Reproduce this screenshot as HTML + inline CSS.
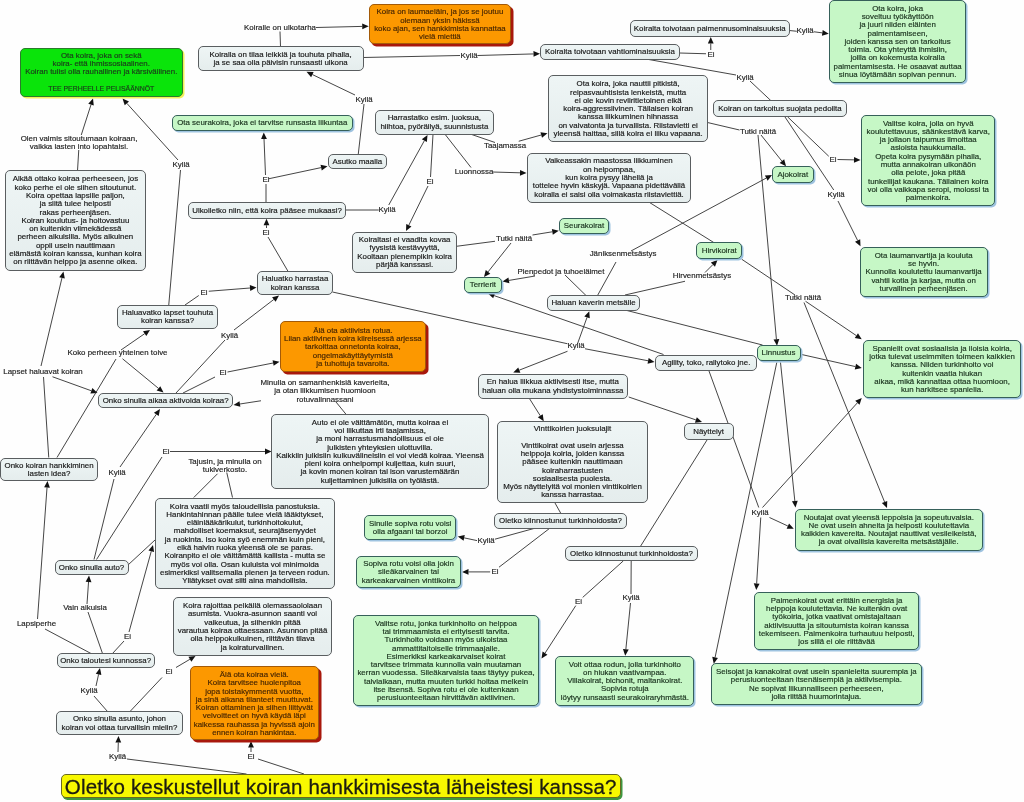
<!DOCTYPE html>
<html><head><meta charset="utf-8"><style>
html,body{margin:0;padding:0;background:#fefefe;}
body{width:1024px;height:802px;position:relative;overflow:hidden;font-family:"Liberation Sans",sans-serif;}
.b{position:absolute;padding-top:1px;-webkit-text-stroke:0.16px currentColor;box-sizing:border-box;border:1px solid;border-radius:5px;display:flex;align-items:center;justify-content:center;text-align:center;font-size:7.9px;line-height:8.3px;white-space:nowrap;}
.l{position:absolute;-webkit-text-stroke:0.16px currentColor;font-size:7.9px;line-height:8.3px;text-align:center;white-space:nowrap;color:#222;transform:translate(-50%,-50%);}
svg{position:absolute;left:0;top:0;}
#w{position:absolute;left:0;top:0;width:1024px;height:802px;filter:blur(0.35px);}
</style></head><body><div id="w">

<svg width="1024" height="802" viewBox="0 0 1024 802">
<line x1="246.5" y1="774" x2="127" y2="759" stroke="#303030" stroke-width="0.9"/>
<line x1="118" y1="752" x2="118.30" y2="742.50" stroke="#303030" stroke-width="0.9"/>
<polygon points="118.50,736.00 121.20,742.59 115.40,742.41" fill="#111"/>
<line x1="304" y1="774" x2="258" y2="759" stroke="#303030" stroke-width="0.9"/>
<line x1="251" y1="752" x2="251.00" y2="747.50" stroke="#303030" stroke-width="0.9"/>
<polygon points="251.00,741.00 253.90,747.50 248.10,747.50" fill="#111"/>
<line x1="107.5" y1="711.5" x2="94" y2="696" stroke="#303030" stroke-width="0.9"/>
<line x1="96" y1="686" x2="98.59" y2="674.35" stroke="#303030" stroke-width="0.9"/>
<polygon points="100.00,668.00 101.42,674.97 95.76,673.72" fill="#111"/>
<line x1="130" y1="711.5" x2="162" y2="677.5" stroke="#303030" stroke-width="0.9"/>
<line x1="176" y1="667.5" x2="189.90" y2="659.30" stroke="#303030" stroke-width="0.9"/>
<polygon points="195.50,656.00 191.37,661.80 188.43,656.80" fill="#111"/>
<line x1="91" y1="653.5" x2="45" y2="629" stroke="#303030" stroke-width="0.9"/>
<line x1="37.5" y1="619" x2="47.03" y2="487.48" stroke="#303030" stroke-width="0.9"/>
<polygon points="47.50,481.00 49.92,487.69 44.14,487.27" fill="#111"/>
<line x1="102.5" y1="653.5" x2="88" y2="612" stroke="#303030" stroke-width="0.9"/>
<line x1="87" y1="604" x2="88.54" y2="581.98" stroke="#303030" stroke-width="0.9"/>
<polygon points="89.00,575.50 91.44,582.19 85.65,581.78" fill="#111"/>
<line x1="112.5" y1="653.5" x2="124" y2="641" stroke="#303030" stroke-width="0.9"/>
<line x1="129" y1="632" x2="151.27" y2="551.27" stroke="#303030" stroke-width="0.9"/>
<polygon points="153.00,545.00 154.07,552.04 148.48,550.49" fill="#111"/>
<line x1="94" y1="559.5" x2="114" y2="479" stroke="#303030" stroke-width="0.9"/>
<line x1="120" y1="467" x2="156.31" y2="414.35" stroke="#303030" stroke-width="0.9"/>
<polygon points="160.00,409.00 158.70,416.00 153.92,412.70" fill="#111"/>
<line x1="96.5" y1="559.5" x2="162" y2="457" stroke="#303030" stroke-width="0.9"/>
<line x1="170" y1="451.5" x2="265.00" y2="451.50" stroke="#303030" stroke-width="0.9"/>
<polygon points="271.50,451.50 265.00,454.40 265.00,448.60" fill="#111"/>
<line x1="128" y1="565" x2="155" y2="540" stroke="#303030" stroke-width="0.9"/>
<line x1="48.75" y1="457.5" x2="43.5" y2="377" stroke="#303030" stroke-width="0.9"/>
<line x1="41" y1="366" x2="61.99" y2="277.82" stroke="#303030" stroke-width="0.9"/>
<polygon points="63.50,271.50 64.82,278.49 59.17,277.15" fill="#111"/>
<line x1="52.5" y1="376.75" x2="91.39" y2="390.79" stroke="#303030" stroke-width="0.9"/>
<polygon points="97.50,393.00 90.40,393.52 92.37,388.06" fill="#111"/>
<line x1="57" y1="457.5" x2="116" y2="359" stroke="#303030" stroke-width="0.9"/>
<line x1="121" y1="350" x2="144.65" y2="333.69" stroke="#303030" stroke-width="0.9"/>
<polygon points="150.00,330.00 146.30,336.08 143.00,331.30" fill="#111"/>
<line x1="122.5" y1="358.75" x2="158.48" y2="388.37" stroke="#303030" stroke-width="0.9"/>
<polygon points="163.50,392.50 156.64,390.61 160.32,386.13" fill="#111"/>
<line x1="168.75" y1="305" x2="180.5" y2="170" stroke="#303030" stroke-width="0.9"/>
<line x1="178" y1="160" x2="126.85" y2="103.33" stroke="#303030" stroke-width="0.9"/>
<polygon points="122.50,98.50 129.01,101.38 124.70,105.27" fill="#111"/>
<line x1="77.5" y1="170.75" x2="78.75" y2="150" stroke="#303030" stroke-width="0.9"/>
<line x1="81.25" y1="135" x2="91.01" y2="104.69" stroke="#303030" stroke-width="0.9"/>
<polygon points="93.00,98.50 93.77,105.58 88.25,103.80" fill="#111"/>
<line x1="185" y1="305" x2="198.75" y2="295.5" stroke="#303030" stroke-width="0.9"/>
<line x1="208.75" y1="291.25" x2="250.02" y2="288.01" stroke="#303030" stroke-width="0.9"/>
<polygon points="256.50,287.50 250.25,290.90 249.79,285.12" fill="#111"/>
<line x1="176" y1="393" x2="225" y2="340" stroke="#303030" stroke-width="0.9"/>
<line x1="234" y1="330" x2="273.84" y2="299.45" stroke="#303030" stroke-width="0.9"/>
<polygon points="279.00,295.50 275.61,301.76 272.08,297.15" fill="#111"/>
<line x1="183" y1="393" x2="215" y2="377" stroke="#303030" stroke-width="0.9"/>
<line x1="227.5" y1="372" x2="273.12" y2="363.01" stroke="#303030" stroke-width="0.9"/>
<polygon points="279.50,361.75 273.68,365.85 272.56,360.16" fill="#111"/>
<line x1="261" y1="400.75" x2="239.92" y2="404.01" stroke="#303030" stroke-width="0.9"/>
<polygon points="233.50,405.00 239.48,401.14 240.37,406.87" fill="#111"/>
<line x1="336" y1="402" x2="346" y2="414.25" stroke="#303030" stroke-width="0.9"/>
<line x1="217.5" y1="473.75" x2="193.75" y2="497.5" stroke="#303030" stroke-width="0.9"/>
<line x1="226.75" y1="472.5" x2="232.5" y2="497.5" stroke="#303030" stroke-width="0.9"/>
<line x1="288.25" y1="271.75" x2="268" y2="237" stroke="#303030" stroke-width="0.9"/>
<line x1="266.5" y1="228" x2="266.50" y2="225.25" stroke="#303030" stroke-width="0.9"/>
<polygon points="266.50,218.75 269.40,225.25 263.60,225.25" fill="#111"/>
<line x1="266" y1="202" x2="266" y2="184" stroke="#303030" stroke-width="0.9"/>
<line x1="265.5" y1="175" x2="264.02" y2="138.99" stroke="#303030" stroke-width="0.9"/>
<polygon points="263.75,132.50 266.91,138.88 261.12,139.11" fill="#111"/>
<line x1="268.75" y1="178.75" x2="321.14" y2="167.60" stroke="#303030" stroke-width="0.9"/>
<polygon points="327.50,166.25 321.75,170.44 320.54,164.77" fill="#111"/>
<line x1="358.25" y1="154.25" x2="364" y2="104" stroke="#303030" stroke-width="0.9"/>
<line x1="355" y1="95" x2="312.36" y2="74.56" stroke="#303030" stroke-width="0.9"/>
<polygon points="306.50,71.75 313.61,71.94 311.11,77.17" fill="#111"/>
<line x1="280.5" y1="46.5" x2="280" y2="31.5" stroke="#303030" stroke-width="0.9"/>
<line x1="316" y1="27.5" x2="362.25" y2="26.40" stroke="#303030" stroke-width="0.9"/>
<polygon points="368.75,26.25 362.32,29.30 362.18,23.50" fill="#111"/>
<line x1="363" y1="57.5" x2="460" y2="55.5" stroke="#303030" stroke-width="0.9"/>
<line x1="477.5" y1="55.5" x2="533.50" y2="53.93" stroke="#303030" stroke-width="0.9"/>
<polygon points="540.00,53.75 533.58,56.83 533.42,51.03" fill="#111"/>
<line x1="345.75" y1="210" x2="378.75" y2="210" stroke="#303030" stroke-width="0.9"/>
<line x1="388.75" y1="205" x2="424.35" y2="140.69" stroke="#303030" stroke-width="0.9"/>
<polygon points="427.50,135.00 426.89,142.09 421.81,139.28" fill="#111"/>
<line x1="433" y1="134.25" x2="430.5" y2="177" stroke="#303030" stroke-width="0.9"/>
<line x1="428" y1="186" x2="408.85" y2="225.16" stroke="#303030" stroke-width="0.9"/>
<polygon points="406.00,231.00 406.25,223.89 411.46,226.43" fill="#111"/>
<line x1="471" y1="134.25" x2="495" y2="142.5" stroke="#303030" stroke-width="0.9"/>
<line x1="518.75" y1="141.25" x2="541.24" y2="134.99" stroke="#303030" stroke-width="0.9"/>
<polygon points="547.50,133.25 542.02,137.79 540.46,132.20" fill="#111"/>
<line x1="445" y1="134.25" x2="471" y2="167.5" stroke="#303030" stroke-width="0.9"/>
<line x1="492.5" y1="172" x2="520.00" y2="172.81" stroke="#303030" stroke-width="0.9"/>
<polygon points="526.50,173.00 519.92,175.71 520.09,169.91" fill="#111"/>
<line x1="456.75" y1="246.25" x2="495" y2="241.25" stroke="#303030" stroke-width="0.9"/>
<line x1="532.5" y1="235" x2="552.33" y2="231.79" stroke="#303030" stroke-width="0.9"/>
<polygon points="558.75,230.75 552.80,234.65 551.87,228.93" fill="#111"/>
<line x1="511" y1="243" x2="488.04" y2="271.91" stroke="#303030" stroke-width="0.9"/>
<polygon points="484.00,277.00 485.77,270.11 490.31,273.71" fill="#111"/>
<line x1="586" y1="295.5" x2="565" y2="275" stroke="#303030" stroke-width="0.9"/>
<line x1="535" y1="276" x2="508.91" y2="280.42" stroke="#303030" stroke-width="0.9"/>
<polygon points="502.50,281.50 508.42,277.56 509.39,283.27" fill="#111"/>
<line x1="597.5" y1="295.5" x2="616" y2="262" stroke="#303030" stroke-width="0.9"/>
<line x1="631" y1="251" x2="766.28" y2="178.08" stroke="#303030" stroke-width="0.9"/>
<polygon points="772.00,175.00 767.65,180.64 764.90,175.53" fill="#111"/>
<line x1="625" y1="295" x2="685" y2="281.25" stroke="#303030" stroke-width="0.9"/>
<line x1="705" y1="272.5" x2="712.90" y2="264.60" stroke="#303030" stroke-width="0.9"/>
<polygon points="717.50,260.00 714.95,266.65 710.85,262.55" fill="#111"/>
<line x1="577.5" y1="343.75" x2="587.04" y2="317.36" stroke="#303030" stroke-width="0.9"/>
<polygon points="589.25,311.25 589.77,318.35 584.31,316.38" fill="#111"/>
<line x1="567.5" y1="351.25" x2="519.30" y2="370.13" stroke="#303030" stroke-width="0.9"/>
<polygon points="513.25,372.50 518.24,367.43 520.36,372.83" fill="#111"/>
<line x1="585" y1="348.75" x2="648.12" y2="360.78" stroke="#303030" stroke-width="0.9"/>
<polygon points="654.50,362.00 647.57,363.63 648.66,357.93" fill="#111"/>
<line x1="332.5" y1="292" x2="567.5" y2="343.75" stroke="#303030" stroke-width="0.9"/>
<line x1="663.5" y1="354.5" x2="494.14" y2="295.63" stroke="#303030" stroke-width="0.9"/>
<polygon points="488.00,293.50 495.09,292.89 493.19,298.37" fill="#111"/>
<line x1="625" y1="310" x2="762.5" y2="345" stroke="#303030" stroke-width="0.9"/>
<line x1="648.75" y1="202" x2="713.75" y2="242.5" stroke="#303030" stroke-width="0.9"/>
<line x1="741.75" y1="259.25" x2="795" y2="295" stroke="#303030" stroke-width="0.9"/>
<line x1="805.5" y1="301.25" x2="856.36" y2="335.61" stroke="#303030" stroke-width="0.9"/>
<polygon points="861.75,339.25 854.74,338.01 857.99,333.21" fill="#111"/>
<line x1="804" y1="302.5" x2="884.57" y2="501.97" stroke="#303030" stroke-width="0.9"/>
<polygon points="887.00,508.00 881.88,503.06 887.25,500.89" fill="#111"/>
<line x1="787.5" y1="116.75" x2="828.75" y2="156.25" stroke="#303030" stroke-width="0.9"/>
<line x1="837.5" y1="159.5" x2="854.00" y2="159.86" stroke="#303030" stroke-width="0.9"/>
<polygon points="860.50,160.00 853.94,162.76 854.06,156.96" fill="#111"/>
<line x1="785" y1="117" x2="833.75" y2="190" stroke="#303030" stroke-width="0.9"/>
<line x1="838" y1="201" x2="857.61" y2="240.43" stroke="#303030" stroke-width="0.9"/>
<polygon points="860.50,246.25 855.01,241.72 860.20,239.14" fill="#111"/>
<line x1="648.75" y1="59.5" x2="736" y2="75" stroke="#303030" stroke-width="0.9"/>
<line x1="750" y1="81" x2="771" y2="100.75" stroke="#303030" stroke-width="0.9"/>
<line x1="679.5" y1="53" x2="706" y2="53.75" stroke="#303030" stroke-width="0.9"/>
<line x1="710.75" y1="50" x2="710.75" y2="43.50" stroke="#303030" stroke-width="0.9"/>
<polygon points="710.75,37.00 713.65,43.50 707.85,43.50" fill="#111"/>
<line x1="789.25" y1="30.5" x2="796.75" y2="31.25" stroke="#303030" stroke-width="0.9"/>
<line x1="813.75" y1="31.75" x2="822.31" y2="32.89" stroke="#303030" stroke-width="0.9"/>
<polygon points="828.75,33.75 821.92,35.77 822.69,30.02" fill="#111"/>
<line x1="707.5" y1="122.5" x2="739.5" y2="130" stroke="#303030" stroke-width="0.9"/>
<line x1="761" y1="135" x2="781.94" y2="161.17" stroke="#303030" stroke-width="0.9"/>
<polygon points="786.00,166.25 779.67,162.99 784.20,159.36" fill="#111"/>
<line x1="758" y1="135" x2="776.42" y2="339.28" stroke="#303030" stroke-width="0.9"/>
<polygon points="777.00,345.75 773.53,339.54 779.30,339.02" fill="#111"/>
<line x1="800.5" y1="354.25" x2="855.41" y2="366.58" stroke="#303030" stroke-width="0.9"/>
<polygon points="861.75,368.00 854.77,369.41 856.04,363.75" fill="#111"/>
<line x1="780.5" y1="362.5" x2="794.83" y2="501.03" stroke="#303030" stroke-width="0.9"/>
<polygon points="795.50,507.50 791.95,501.33 797.72,500.74" fill="#111"/>
<line x1="776.75" y1="362.5" x2="715.08" y2="657.39" stroke="#303030" stroke-width="0.9"/>
<polygon points="713.75,663.75 712.24,656.79 717.92,657.98" fill="#111"/>
<line x1="709" y1="371" x2="758.75" y2="507.5" stroke="#303030" stroke-width="0.9"/>
<line x1="760.75" y1="517.5" x2="756.65" y2="583.51" stroke="#303030" stroke-width="0.9"/>
<polygon points="756.25,590.00 753.76,583.33 759.55,583.69" fill="#111"/>
<line x1="762.5" y1="507.5" x2="857.38" y2="402.82" stroke="#303030" stroke-width="0.9"/>
<polygon points="861.75,398.00 859.53,404.76 855.24,400.87" fill="#111"/>
<line x1="769.5" y1="517.5" x2="787.85" y2="526.01" stroke="#303030" stroke-width="0.9"/>
<polygon points="793.75,528.75 786.63,528.65 789.07,523.38" fill="#111"/>
<line x1="707" y1="440" x2="640.3" y2="546.6" stroke="#303030" stroke-width="0.9"/>
<line x1="529.25" y1="398.25" x2="540.28" y2="415.75" stroke="#303030" stroke-width="0.9"/>
<polygon points="543.75,421.25 537.83,417.30 542.74,414.20" fill="#111"/>
<line x1="628.75" y1="397" x2="695.85" y2="419.90" stroke="#303030" stroke-width="0.9"/>
<polygon points="702.00,422.00 694.91,422.65 696.79,417.16" fill="#111"/>
<line x1="555" y1="503" x2="560.75" y2="513.25" stroke="#303030" stroke-width="0.9"/>
<line x1="534.6" y1="528.3" x2="494.9" y2="539.2" stroke="#303030" stroke-width="0.9"/>
<line x1="477" y1="540.6" x2="464.16" y2="537.86" stroke="#303030" stroke-width="0.9"/>
<polygon points="457.80,536.50 464.76,535.02 463.55,540.69" fill="#111"/>
<line x1="549.7" y1="528.3" x2="499" y2="567.2" stroke="#303030" stroke-width="0.9"/>
<line x1="490.2" y1="571.9" x2="468.50" y2="571.90" stroke="#303030" stroke-width="0.9"/>
<polygon points="462.00,571.90 468.50,569.00 468.50,574.80" fill="#111"/>
<line x1="623.3" y1="560.9" x2="582.7" y2="597.4" stroke="#303030" stroke-width="0.9"/>
<line x1="575.8" y1="605.6" x2="545.03" y2="653.14" stroke="#303030" stroke-width="0.9"/>
<polygon points="541.50,658.60 542.60,651.57 547.47,654.72" fill="#111"/>
<line x1="631.2" y1="560.9" x2="631" y2="594" stroke="#303030" stroke-width="0.9"/>
<line x1="630.5" y1="603" x2="625.85" y2="649.33" stroke="#303030" stroke-width="0.9"/>
<polygon points="625.20,655.80 622.96,649.04 628.73,649.62" fill="#111"/>
</svg>
<div class="b" style="left:19.5px;top:47.5px;width:163.5px;height:49.0px;background:#0ae40a;border-color:#2c7a2c;color:#1c3a1c;box-shadow:1.5px 1.5px 0 #f2f25a;"><div>Ota koira, joka on sekä<br>koira- että ihmissosiaalinen.<br>Koiran tulisi olla rauhallinen ja kärsivällinen.<br>&nbsp;<br><span style="font-size:6.9px">TEE PERHEELLE PELISÄÄNNÖT</span></div></div>
<div class="b" style="left:368.75px;top:3.8px;width:142.35000000000002px;height:40.5px;background:#fc9800;border-color:#a35a08;color:#472600;box-shadow:2.5px 2.5px 0 #a8180c;padding-top:2px;"><div>Koira on laumaeläin, ja jos se joutuu<br>olemaan yksin häkissä<br>koko ajan, sen hankkimista kannattaa<br>vielä miettiä</div></div>
<div class="b" style="left:197.75px;top:46.0px;width:165.75px;height:25.25px;background:linear-gradient(#eef5f5,#e5eded);border-color:#5a5e60;color:#161616;box-shadow:none;"><div>Koiralla on tilaa leikkiä ja touhuta pihalla,<br>ja se saa olla päivisin runsaasti ulkona</div></div>
<div class="b" style="left:540.0px;top:43.75px;width:140.0px;height:16.25px;background:linear-gradient(#eef5f5,#e5eded);border-color:#5a5e60;color:#161616;box-shadow:none;"><div>Koiralta toivotaan vahtiominaisuuksia</div></div>
<div class="b" style="left:629.5px;top:20.0px;width:160.5px;height:17.25px;background:linear-gradient(#eef5f5,#e5eded);border-color:#5a5e60;color:#161616;box-shadow:none;"><div>Koiralta toivotaan paimennusominaisuuksia</div></div>
<div class="b" style="left:829.25px;top:0.0px;width:136.75px;height:83.0px;background:#c6f7c6;border-color:#36605a;color:#18301c;box-shadow:1.5px 1.5px 0 #9ec3e0;"><div>Ota koira, joka<br>soveltuu työkäyttöön<br>ja juuri niiden eläinten<br>paimentamiseen,<br>joiden kanssa sen on tarkoitus<br>toimia. Ota yhteyttä ihmisiin,<br>joilla on kokemusta koiralla<br>paimentamisesta. He osaavat auttaa<br>sinua löytämään sopivan pennun.</div></div>
<div class="b" style="left:172.0px;top:114.5px;width:180.5px;height:16.5px;background:#c6f7c6;border-color:#36605a;color:#18301c;box-shadow:1.5px 1.5px 0 #9ec3e0;"><div>Ota seurakoira, joka ei tarvitse runsasta liikuntaa</div></div>
<div class="b" style="left:375.0px;top:109.5px;width:118.75px;height:25.25px;background:linear-gradient(#eef5f5,#e5eded);border-color:#5a5e60;color:#161616;box-shadow:none;"><div>Harrastatko esim. juoksua,<br>hiihtoa, pyöräilyä, suunnistusta</div></div>
<div class="b" style="left:548.25px;top:75.25px;width:159.75px;height:67.0px;background:linear-gradient(#eef5f5,#e5eded);border-color:#5a5e60;color:#161616;box-shadow:none;"><div>Ota koira, joka nauttii pitkistä,<br>reipasvauhtisista lenkeistä, mutta<br>ei ole kovin reviiritietoinen eikä<br>koira-aggressiivinen. Tällaisen koiran<br>kanssa liikkuminen hihnassa<br>on vaivatonta ja turvallista. Riistavietti ei<br>yleensä haittaa, sillä koira ei liiku vapaana.</div></div>
<div class="b" style="left:712.75px;top:100.25px;width:134.5px;height:17.0px;background:linear-gradient(#eef5f5,#e5eded);border-color:#5a5e60;color:#161616;box-shadow:none;"><div>Koiran on tarkoitus suojata pedoilta</div></div>
<div class="b" style="left:327.75px;top:153.75px;width:59.0px;height:15.0px;background:linear-gradient(#eef5f5,#e5eded);border-color:#5a5e60;color:#161616;box-shadow:none;"><div>Asutko maalla</div></div>
<div class="b" style="left:527.0px;top:152.75px;width:164.0px;height:49.75px;background:linear-gradient(#eef5f5,#e5eded);border-color:#5a5e60;color:#161616;box-shadow:none;"><div>Vaikeassakin maastossa liikkuminen<br>on helpompaa,<br>kun koira pysyy lähellä ja<br>tottelee hyvin käskyjä. Vapaana pidettävällä<br>koiralla ei saisi olla voimakasta riistaviettiä.</div></div>
<div class="b" style="left:187.75px;top:202.0px;width:158.5px;height:16.75px;background:linear-gradient(#eef5f5,#e5eded);border-color:#5a5e60;color:#161616;box-shadow:none;"><div>Ulkoiletko niin, että koira pääsee mukaasi?</div></div>
<div class="b" style="left:4.5px;top:170.0px;width:141.75px;height:101.0px;background:linear-gradient(#eef5f5,#e5eded);border-color:#5a5e60;color:#161616;box-shadow:none;"><div>Alkää ottako koiraa perheeseen, jos<br>koko perhe ei ole siihen sitoutunut.<br>Koira opettaa lapsille paljon,<br>ja siitä tulee helposti<br>rakas perheenjäsen.<br>Koiran koulutus- ja hoitovastuu<br>on kuitenkin viimekädessä<br>perheen aikuisilla. Myös aikuinen<br>oppii usein nauttimaan<br>elämästä koiran kanssa, kunhan koira<br>on riittävän helppo ja asenne oikea.</div></div>
<div class="b" style="left:861.25px;top:115.0px;width:134.0px;height:91.0px;background:#c6f7c6;border-color:#36605a;color:#18301c;box-shadow:1.5px 1.5px 0 #9ec3e0;"><div>Valitse koira, jolla on hyvä<br>koulutettavuus, säänkestävä karva,<br>ja jollaon taipumus ilmoittaa<br>asioista haukkumalla.<br>Opeta koira pysymään pihalla,<br>mutta annakoiran ulkonäön<br>olla pelote, joka pitää<br>tunkeilijat kaukana. Tällainen koira<br>voi olla vaikkapa seropi, molossi ta<br>paimenkoira.</div></div>
<div class="b" style="left:772.0px;top:166.25px;width:41.5px;height:16.75px;background:#c6f7c6;border-color:#36605a;color:#18301c;box-shadow:1.5px 1.5px 0 #9ec3e0;"><div>Ajokoirat</div></div>
<div class="b" style="left:352.0px;top:231.5px;width:105.25px;height:41.5px;background:linear-gradient(#eef5f5,#e5eded);border-color:#5a5e60;color:#161616;box-shadow:none;"><div>Koiraltasi ei vaadita kovaa<br>fyysistä kestävyyttä,<br>Kooltaan pienempikin koira<br>pärjää kanssasi.</div></div>
<div class="b" style="left:558.75px;top:217.75px;width:50.5px;height:16.0px;background:#c6f7c6;border-color:#36605a;color:#18301c;box-shadow:1.5px 1.5px 0 #9ec3e0;"><div>Seurakoirat</div></div>
<div class="b" style="left:696.25px;top:242.0px;width:46.0px;height:16.5px;background:#c6f7c6;border-color:#36605a;color:#18301c;box-shadow:1.5px 1.5px 0 #9ec3e0;"><div>Hirvikoirat</div></div>
<div class="b" style="left:859.5px;top:247.0px;width:128.25px;height:50.25px;background:#c6f7c6;border-color:#36605a;color:#18301c;box-shadow:1.5px 1.5px 0 #9ec3e0;"><div>Ota laumanvartija ja kouluta<br>se hyvin.<br>Kunnolla koulutettu laumanvartija<br>vahtii kotia ja karjaa, mutta on<br>turvallinen perheenjäsen.</div></div>
<div class="b" style="left:463.75px;top:277.0px;width:38.25px;height:16.0px;background:#c6f7c6;border-color:#36605a;color:#18301c;box-shadow:1.5px 1.5px 0 #9ec3e0;"><div>Terrierit</div></div>
<div class="b" style="left:257.0px;top:271.25px;width:76.0px;height:23.75px;background:linear-gradient(#eef5f5,#e5eded);border-color:#5a5e60;color:#161616;box-shadow:none;"><div>Haluatko harrastaa<br>koiran kanssa</div></div>
<div class="b" style="left:547.0px;top:294.75px;width:93.0px;height:15.75px;background:linear-gradient(#eef5f5,#e5eded);border-color:#5a5e60;color:#161616;box-shadow:none;"><div>Haluan kaverin metsälle</div></div>
<div class="b" style="left:117.0px;top:305.0px;width:101.0px;height:23.5px;background:linear-gradient(#eef5f5,#e5eded);border-color:#5a5e60;color:#161616;box-shadow:none;"><div>Haluavatko lapset touhuta<br>koiran kanssa?</div></div>
<div class="b" style="left:279.5px;top:321.25px;width:146.8px;height:50.44999999999999px;background:#fc9800;border-color:#a35a08;color:#472600;box-shadow:2.5px 2.5px 0 #a8180c;padding-top:2px;"><div>Älä ota aktiivista rotua.<br>Liian aktiivinen koira kiireisessä arjessa<br>tarkoittaa onnetonta koiraa,<br>ongelmakäyttäytymistä<br>ja tuhottuja tavaroita.</div></div>
<div class="b" style="left:756.5px;top:345.25px;width:44.0px;height:15.75px;background:#c6f7c6;border-color:#36605a;color:#18301c;box-shadow:1.5px 1.5px 0 #9ec3e0;"><div>Linnustus</div></div>
<div class="b" style="left:863.25px;top:340.0px;width:157.75px;height:58.0px;background:#c6f7c6;border-color:#36605a;color:#18301c;box-shadow:1.5px 1.5px 0 #9ec3e0;"><div>Spanielit ovat sosiaalisia ja iloisia koiria,<br>jotka tulevat useimmiten toimeen kaikkien<br>kanssa. Niiden turkinhoito voi<br>kuitenkin vaatia hiukan<br>aikaa, mikä kannattaa ottaa huomioon,<br>kun harkitsee spanielia.</div></div>
<div class="b" style="left:655.0px;top:354.5px;width:102.25px;height:16.75px;background:linear-gradient(#eef5f5,#e5eded);border-color:#5a5e60;color:#161616;box-shadow:none;"><div>Agility, toko, rallytoko jne.</div></div>
<div class="b" style="left:477.75px;top:373.75px;width:150.25px;height:25.0px;background:linear-gradient(#eef5f5,#e5eded);border-color:#5a5e60;color:#161616;box-shadow:none;"><div>En halua liikkua aktiivisesti itse, mutta<br>haluan olla mukana yhdistystoiminnassa</div></div>
<div class="b" style="left:98.25px;top:392.75px;width:134.75px;height:15.25px;background:linear-gradient(#eef5f5,#e5eded);border-color:#5a5e60;color:#161616;box-shadow:none;"><div>Onko sinulla aikaa aktivoida koiraa?</div></div>
<div class="b" style="left:271.25px;top:414.0px;width:217.5px;height:74.75px;background:linear-gradient(#eef5f5,#e5eded);border-color:#5a5e60;color:#161616;box-shadow:none;"><div>Auto ei ole välttämätön, mutta koiraa ei<br>voi liikuttaa irti taajamissa,<br>ja moni harrastusmahdollisuus ei ole<br>julkisten yhteyksien ulottuvilla.<br>Kaikkiin julkisiin kulkuvälineisiin ei voi viedä koiraa. Yleensä<br>pieni koira onhelpompi kuljettaa, kuin suuri,<br>ja kovin monen koiran tai ison varustemäärän<br>kuljettaminen julkisilla on työlästä.</div></div>
<div class="b" style="left:683.75px;top:422.75px;width:49.75px;height:17.0px;background:linear-gradient(#eef5f5,#e5eded);border-color:#5a5e60;color:#161616;box-shadow:none;"><div>Näyttelyt</div></div>
<div class="b" style="left:497.0px;top:420.75px;width:151.0px;height:82.25px;background:linear-gradient(#eef5f5,#e5eded);border-color:#5a5e60;color:#161616;box-shadow:none;"><div>Vinttikoirien juoksulajit<br>&nbsp;<br>Vinttikoirat ovat usein arjessa<br>helppoja koiria, joiden kanssa<br>pääsee kuitenkin nauttimaan<br>koiraharrastusten<br>sosiaalisesta puolesta.<br>Myös näyttelyitä voi monien vinttikoirien<br>kanssa harrastaa.</div></div>
<div class="b" style="left:0.25px;top:457.75px;width:97.75px;height:23.5px;background:linear-gradient(#eef5f5,#e5eded);border-color:#5a5e60;color:#161616;box-shadow:none;"><div>Onko koiran hankkiminen<br>lasten idea?</div></div>
<div class="b" style="left:154.75px;top:497.75px;width:180.25px;height:91.5px;background:linear-gradient(#eef5f5,#e5eded);border-color:#5a5e60;color:#161616;box-shadow:none;"><div>Koira vaatii myös taloudellisia panostuksia.<br>Hankintahinnan päälle tulee vielä lääkitykset,<br>eläinlääkärikulut, turkinhoitokulut,<br>mahdolliset koemaksut, seurajäsenyydet<br>ja ruokinta. Iso koira syö enemmän kuin pieni,<br>eikä halvin ruoka yleensä ole se paras.<br>Koiranpito ei ole välttämättä kallista - mutta se<br>myös voi olla. Osan kuluista voi minimoida<br>esimerkiksi valitsemalla pienen ja terveen rodun.<br>Yllätykset ovat silti aina mahdollisia.</div></div>
<div class="b" style="left:493.8px;top:513.0px;width:133.40000000000003px;height:15.799999999999955px;background:linear-gradient(#eef5f5,#e5eded);border-color:#5a5e60;color:#161616;box-shadow:none;"><div>Oletko kiinnostunut turkinhoidosta?</div></div>
<div class="b" style="left:364.0px;top:515.0px;width:92.30000000000001px;height:25.0px;background:#c6f7c6;border-color:#36605a;color:#18301c;box-shadow:1.5px 1.5px 0 #9ec3e0;"><div>Sinulle sopiva rotu voisi<br>olla afgaani tai borzoi</div></div>
<div class="b" style="left:794.5px;top:508.75px;width:188.5px;height:41.75px;background:#c6f7c6;border-color:#36605a;color:#18301c;box-shadow:1.5px 1.5px 0 #9ec3e0;"><div>Noutajat ovat yleensä leppoisia ja sopeutuvaisia.<br>Ne ovat usein ahneita ja helposti koulutettavia<br>kaikkien kavereita. Noutajat nauttivat vesileikeistä,<br>ja ovat oivallisia kavereita metsästäjälle.</div></div>
<div class="b" style="left:564.9px;top:546.1px;width:133.10000000000002px;height:15.299999999999955px;background:linear-gradient(#eef5f5,#e5eded);border-color:#5a5e60;color:#161616;box-shadow:none;"><div>Oletko kiinnostunut turkinhoidosta?</div></div>
<div class="b" style="left:356.0px;top:556.0px;width:105.10000000000002px;height:31.799999999999955px;background:#c6f7c6;border-color:#36605a;color:#18301c;box-shadow:1.5px 1.5px 0 #9ec3e0;"><div>Sopiva rotu voisi olla jokin<br>sileäkarvainen tai<br>karkeakarvainen vinttikoira</div></div>
<div class="b" style="left:54.5px;top:559.5px;width:74.0px;height:15.5px;background:linear-gradient(#eef5f5,#e5eded);border-color:#5a5e60;color:#161616;box-shadow:none;"><div>Onko sinulla auto?</div></div>
<div class="b" style="left:754.0px;top:592.0px;width:165.25px;height:58.0px;background:#c6f7c6;border-color:#36605a;color:#18301c;box-shadow:1.5px 1.5px 0 #9ec3e0;"><div>Paimenkoirat ovat erittäin energisia ja<br>helppoja koulutettavia. Ne kuitenkin ovat<br>työkoiria, jotka vaativat omistajaltaan<br>aktiivisuutta ja sitoutumista koiran kanssa<br>tekemiseen. Paimenkoira turhautuu helposti,<br>jos sillä ei ole riittävää</div></div>
<div class="b" style="left:172.75px;top:597.1px;width:159.5px;height:58.89999999999998px;background:linear-gradient(#eef5f5,#e5eded);border-color:#5a5e60;color:#161616;box-shadow:none;"><div>Koira rajoittaa pelkällä olemassaololaan<br>asumista. Vuokra-asunnon saanti voi<br>vaikeutua, ja siihenkin pitää<br>varautua koiraa ottaessaan. Asunnon pitää<br>olla helppokulkuinen, riittävän tilava<br>ja koiraturvallinen.</div></div>
<div class="b" style="left:352.75px;top:614.9px;width:186.54999999999995px;height:91.60000000000002px;background:#c6f7c6;border-color:#36605a;color:#18301c;box-shadow:1.5px 1.5px 0 #9ec3e0;"><div>Valitse rotu, jonka turkinhoito on helppoa<br>tai trimmaamista ei erityisesti tarvita.<br>Turkinhoito voidaan myös ulkoistaa<br>ammattitaitoiselle trimmaajalle.<br>Esimerkiksi karkeakarvaiset koirat<br>tarvitsee trimmata kunnolla vain muutaman<br>kerran vuodessa. Sileäkarvaisia taas täytyy pukea,<br>talviaikaan, mutta muuten turkki hoitaa melkein<br>itse itsensä. Sopiva rotu ei ole kuitenkaan<br>perusluonteeltaan hirvittävän aktiivinen.</div></div>
<div class="b" style="left:56.5px;top:653.25px;width:98.25px;height:14.75px;background:linear-gradient(#eef5f5,#e5eded);border-color:#5a5e60;color:#161616;box-shadow:none;"><div>Onko taloutesi kunnossa?</div></div>
<div class="b" style="left:555.3px;top:655.9px;width:139.0px;height:49.80000000000007px;background:#c6f7c6;border-color:#36605a;color:#18301c;box-shadow:1.5px 1.5px 0 #9ec3e0;"><div>Voit ottaa rodun, jolla turkinhoito<br>on hiukan vaativampaa.<br>Villakoirat, bichonit, maltankoirat.<br>Sopivia rotuja<br>löytyy runsaasti seurakoiraryhmästä.</div></div>
<div class="b" style="left:711.0px;top:663.3px;width:210.70000000000005px;height:41.700000000000045px;background:#c6f7c6;border-color:#36605a;color:#18301c;box-shadow:1.5px 1.5px 0 #9ec3e0;"><div>Seisojat ja kanakoirat ovat usein spanieleita suurempia ja<br>perusluonteeltaan itsenäisempiä ja aktiivisempia.<br>Ne sopivat liikunnalliseen perheeseen,<br>jolla riittää huumorintajua.</div></div>
<div class="b" style="left:189.5px;top:665.8px;width:129.60000000000002px;height:74.70000000000005px;background:#fc9800;border-color:#a35a08;color:#472600;box-shadow:2.5px 2.5px 0 #a8180c;padding-top:2px;"><div>Älä ota koiraa vielä.<br>Koira tarvitsee huolenpitoa<br>jopa toistakymmentä vuotta,<br>ja sinä aikana tilanteet muuttuvat.<br>Koiran ottaminen ja siihen liittyvät<br>velvoitteet on hyvä käydä läpi<br>kaikessa rauhassa ja hyvissä ajoin<br>ennen koiran hankintaa.</div></div>
<div class="b" style="left:56.0px;top:711.25px;width:127.0px;height:23.75px;background:linear-gradient(#eef5f5,#e5eded);border-color:#5a5e60;color:#161616;box-shadow:none;"><div>Onko sinulla asunto, johon<br>koiran voi ottaa turvallisin mielin?</div></div>
<div class="b" style="left:61.0px;top:773.8px;width:559.5px;height:24.700000000000045px;background:#f8f800;border-color:#6a6a20;color:#1c1c10;box-shadow:1.5px 2px 0 #3f963f;font-size:20.5px;line-height:22px;border-radius:5px;letter-spacing:0.16px;-webkit-text-stroke:0.3px currentColor;padding-top:2px;"><div>Oletko keskustellut koiran hankkimisesta läheistesi kanssa?</div></div>
<div class="l" style="left:280px;top:27.5px">Koiralle on ulkotarha</div>
<div class="l" style="left:469px;top:55.5px">Kyllä</div>
<div class="l" style="left:711px;top:54.5px">Ei</div>
<div class="l" style="left:805px;top:31px">Kyllä</div>
<div class="l" style="left:745px;top:77.5px">Kyllä</div>
<div class="l" style="left:364px;top:100px">Kyllä</div>
<div class="l" style="left:79px;top:142.5px">Olen valmis sitoutumaan koiraan,<br>vaikka lasten into lopahtaisi.</div>
<div class="l" style="left:181px;top:164.5px">Kyllä</div>
<div class="l" style="left:758px;top:131.75px">Tutki näitä</div>
<div class="l" style="left:505px;top:145.5px">Taajamassa</div>
<div class="l" style="left:833px;top:160px">Ei</div>
<div class="l" style="left:474px;top:172px">Luonnossa</div>
<div class="l" style="left:266px;top:179.5px">Ei</div>
<div class="l" style="left:430px;top:182px">Ei</div>
<div class="l" style="left:836px;top:195px">Kyllä</div>
<div class="l" style="left:387px;top:209.5px">Kyllä</div>
<div class="l" style="left:266px;top:232.5px">Ei</div>
<div class="l" style="left:514px;top:239px">Tutki näitä</div>
<div class="l" style="left:623px;top:254.25px">Jäniksenmetsästys</div>
<div class="l" style="left:561px;top:271.75px">Pienpedot ja tuhoeläimet</div>
<div class="l" style="left:702px;top:276.25px">Hirvenmetsästys</div>
<div class="l" style="left:803px;top:297.5px">Tutki näitä</div>
<div class="l" style="left:204px;top:293px">Ei</div>
<div class="l" style="left:229.5px;top:335.75px">Kyllä</div>
<div class="l" style="left:576px;top:346px">Kyllä</div>
<div class="l" style="left:117.5px;top:353px">Koko perheen yhteinen toive</div>
<div class="l" style="left:43px;top:371.75px">Lapset haluavat koiran</div>
<div class="l" style="left:223px;top:373px">Ei</div>
<div class="l" style="left:325px;top:391px">Minulla on samanhenkisiä kaverieita,<br>ja otan liikkumisen huomioon<br>rotuvalinnassani</div>
<div class="l" style="left:166px;top:452px">Ei</div>
<div class="l" style="left:225px;top:465.75px">Tajusin, ja minulla on<br>tukiverkosto.</div>
<div class="l" style="left:117px;top:473px">Kyllä</div>
<div class="l" style="left:760px;top:512.5px">Kyllä</div>
<div class="l" style="left:486px;top:541px">Kyllä</div>
<div class="l" style="left:495px;top:572px">Ei</div>
<div class="l" style="left:631px;top:598px">Kyllä</div>
<div class="l" style="left:578.5px;top:602px">Ei</div>
<div class="l" style="left:85px;top:608.25px">Vain aikuisia</div>
<div class="l" style="left:36.5px;top:624px">Lapsiperhe</div>
<div class="l" style="left:127.5px;top:637px">Ei</div>
<div class="l" style="left:169px;top:672px">Ei</div>
<div class="l" style="left:89px;top:691px">Kyllä</div>
<div class="l" style="left:117.5px;top:757px">Kyllä</div>
<div class="l" style="left:251px;top:757px">Ei</div>
</div></body></html>
